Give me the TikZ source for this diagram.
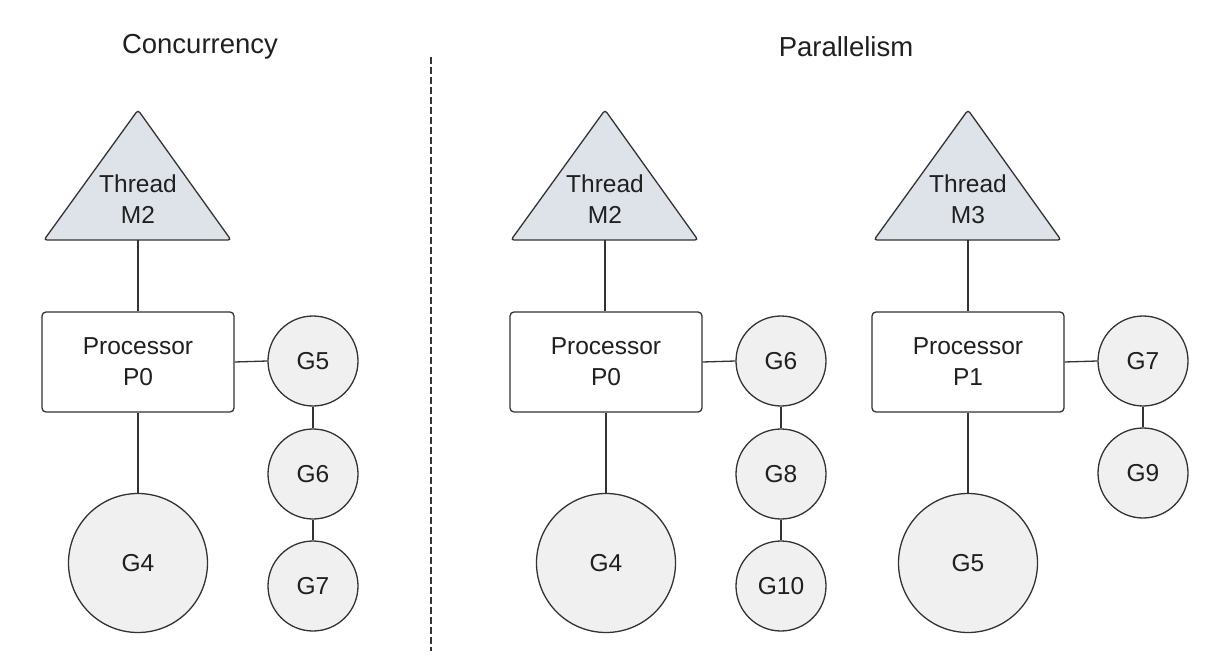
\documentclass[tikz,border=0pt]{standalone}
\usepackage{fontspec}
\setmainfont{Liberation Sans}
\definecolor{strokec}{HTML}{333333}
\definecolor{trifill}{HTML}{DEE3EA}
\definecolor{gfill}{HTML}{F0F0F0}
\definecolor{txtc}{HTML}{202020}
\begin{document}
\begin{tikzpicture}[x=1pt,y=-1pt,
  lbl/.style={font=\fontsize{24.5}{31}\selectfont, text=txtc, align=center},
  title/.style={font=\fontsize{27.5}{33}\selectfont, text=txtc},
  tri/.style={draw=strokec, fill=trifill, line width=1.3pt, rounded corners=3pt},
  procbox/.style={lbl, draw=strokec, fill=white, line width=1.3pt, rounded corners=4pt, minimum width=192pt, minimum height=100pt, inner sep=0pt},
  gsmall/.style={lbl, circle, draw=strokec, fill=gfill, line width=1.3pt, minimum size=90pt, inner sep=0pt},
  gbig/.style={lbl, circle, draw=strokec, fill=gfill, line width=1.3pt, minimum size=139pt, inner sep=0pt},
  conn/.style={draw=strokec, line width=1.3pt},
  divider/.style={draw=strokec, line width=1.3pt, dash pattern=on 7pt off 3pt}
]
\useasboundingbox (0,0) rectangle (1228,660);

% titles
\node[title] (tconc) at (200,47) {Concurrency};
\node[title] (tpar) at (846,47) {Parallelism};

% divider
\coordinate (dtop) at (431,57);
\coordinate (dbot) at (431,651);
\draw[divider] (dtop) -- (dbot);

% ---------- Concurrency ----------
\draw[tri] (138,110) -- (231,240) -- (44,240) -- cycle;
\node[lbl] (ma) at (138,199) {Thread\\M2};
\coordinate (mabase) at (138,240);
\node[procbox] (pa) at (138,362) {Processor\\P0};
\node[gsmall] (ga5) at (313,361) {G5};
\node[gsmall] (ga6) at (313,474) {G6};
\node[gsmall] (ga7) at (313,586) {G7};
\node[gbig] (ga4) at (138,563) {G4};
\draw[conn] (mabase) -- (pa.north);
\draw[conn] (pa.east) -- (ga5.west);
\draw[conn] (ga5.south) -- (ga6.north);
\draw[conn] (ga6.south) -- (ga7.north);
\draw[conn] (pa.south) -- (ga4.north);

% ---------- Parallelism: M2 / P0 ----------
\draw[tri] (605,110) -- (698,240) -- (511,240) -- cycle;
\node[lbl] (mb) at (605,199) {Thread\\M2};
\coordinate (mbbase) at (605,240);
\node[procbox] (pb) at (606,362) {Processor\\P0};
\node[gsmall] (gb6) at (781,361) {G6};
\node[gsmall] (gb8) at (781,474) {G8};
\node[gsmall] (gb10) at (781,586) {G10};
\node[gbig] (gb4) at (606,563) {G4};
\draw[conn] (mbbase) -- (mbbase |- pb.north);
\draw[conn] (pb.east) -- (gb6.west);
\draw[conn] (gb6.south) -- (gb8.north);
\draw[conn] (gb8.south) -- (gb10.north);
\draw[conn] (pb.south) -- (gb4.north);

% ---------- Parallelism: M3 / P1 ----------
\draw[tri] (968,110) -- (1061,240) -- (874,240) -- cycle;
\node[lbl] (mc) at (968,199) {Thread\\M3};
\coordinate (mcbase) at (968,240);
\node[procbox] (pc) at (968,362) {Processor\\P1};
\node[gsmall] (gc7) at (1143,361) {G7};
\node[gsmall] (gc9) at (1143,473) {G9};
\node[gbig] (gc5) at (968,563) {G5};
\draw[conn] (mcbase) -- (pc.north);
\draw[conn] (pc.east) -- (gc7.west);
\draw[conn] (gc7.south) -- (gc9.north);
\draw[conn] (pc.south) -- (gc5.north);
\end{tikzpicture}
\end{document}
